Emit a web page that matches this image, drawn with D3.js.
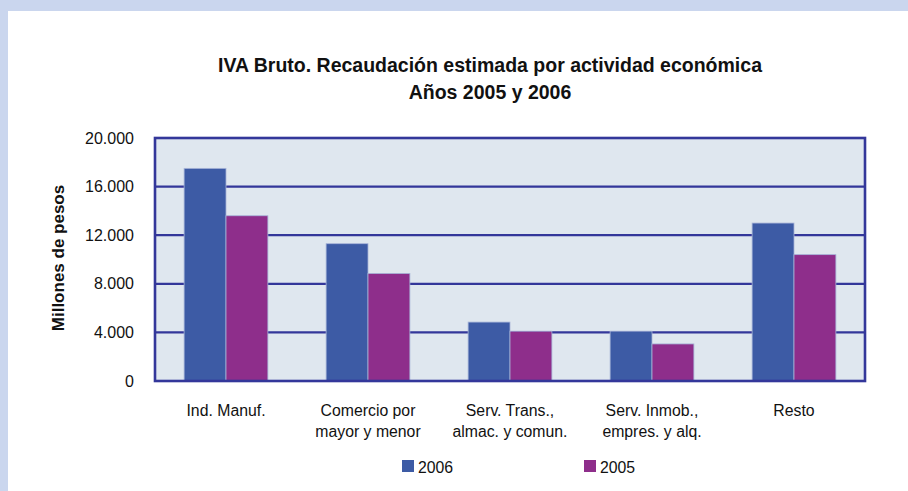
<!DOCTYPE html>
<html>
<head>
<meta charset="utf-8">
<script src="https://cdn.jsdelivr.net/npm/d3@7"></script>
<style>
  body { margin: 0; background: #cad6ee; }
  svg { display: block; font-family: "Liberation Sans", Arial, sans-serif; }
</style>
</head>
<body>
<div id="vis-container"></div>
<script>
// data (millones de pesos)
const categories = [
  ["Ind. Manuf."],
  ["Comercio por", "mayor y menor"],
  ["Serv. Trans.,", "almac. y comun."],
  ["Serv. Inmob.,", "empres. y alq."],
  ["Resto"]
];
const seriesNames = ["2006", "2005"];
const values2006 = [17500, 11300, 4850, 4100, 13000];
const values2005 = [13600, 8850, 4100, 3050, 10400];
const yTicks = [0, 4000, 8000, 12000, 16000, 20000];
const titleLines = ["IVA Bruto. Recaudación estimada por actividad económica", "Años 2005 y 2006"];
const yTitle = "Millones de pesos";

const width = 908;
const height = 491;
const plot = { left: 155, right: 865, top: 138, bottom: 381 };
const colors = { "2006": "#3d5ba5", "2005": "#8e2e8b" };
const navy = "#33379a";

const svg = d3.select("#vis-container")
  .append("svg")
  .attr("width", width)
  .attr("height", height);

// white panel over the light blue page
svg.append("rect")
  .attr("x", 8).attr("y", 11)
  .attr("width", width - 8).attr("height", height - 11)
  .attr("fill", "#ffffff");

// title
svg.append("g")
  .selectAll("text")
  .data(titleLines)
  .join("text")
    .attr("x", 490)
    .attr("y", (d, i) => 72 + i * 27)
    .attr("text-anchor", "middle")
    .attr("font-size", "19.5px")
    .attr("font-weight", "bold")
    .attr("fill", "#111")
    .text(d => d);

const keys = categories.map(c => c.join(" "));
const data = keys.map((k, i) => ({ key: k, lines: categories[i], "2006": values2006[i], "2005": values2005[i] }));

// scales
const x0 = d3.scaleBand()
  .domain(keys)
  .range([plot.left, plot.right])
  .paddingInner(0.41)
  .paddingOuter(0.205);

const x1 = d3.scaleBand()
  .domain(seriesNames)
  .range([0, x0.bandwidth()]);

const y = d3.scaleLinear()
  .domain([0, 20000])
  .range([plot.bottom, plot.top]);

// plot background
svg.append("rect")
  .attr("x", plot.left).attr("y", plot.top)
  .attr("width", plot.right - plot.left)
  .attr("height", plot.bottom - plot.top)
  .attr("fill", "#dfe7ef");

// gridlines
svg.append("g")
  .selectAll("line")
  .data(yTicks.filter(t => t > 0 && t < 20000))
  .join("line")
    .attr("x1", plot.left).attr("x2", plot.right)
    .attr("y1", d => y(d)).attr("y2", d => y(d))
    .attr("stroke", navy)
    .attr("stroke-width", 2.2);

// bars
svg.append("g")
  .selectAll("g")
  .data(data)
  .join("g")
    .attr("transform", d => `translate(${x0(d.key)},0)`)
  .selectAll("rect")
  .data(d => seriesNames.map(s => ({ s: s, v: d[s] })))
  .join("rect")
    .attr("x", d => x1(d.s))
    .attr("y", d => y(d.v))
    .attr("width", x1.bandwidth())
    .attr("height", d => y(0) - y(d.v))
    .attr("fill", d => colors[d.s])
    .attr("stroke", "#a7b4d8")
    .attr("stroke-width", 0.8);

// frame
svg.append("rect")
  .attr("x", plot.left).attr("y", plot.top)
  .attr("width", plot.right - plot.left)
  .attr("height", plot.bottom - plot.top)
  .attr("fill", "none")
  .attr("stroke", navy)
  .attr("stroke-width", 2.6);

// y axis labels
const esLocale = d3.formatLocale({ decimal: ",", thousands: ".", grouping: [3], currency: ["", ""] });
svg.append("g")
  .attr("transform", `translate(${plot.left},0)`)
  .call(d3.axisLeft(y).tickValues(yTicks).tickFormat(esLocale.format(",")).tickSize(0).tickPadding(21))
  .call(g => g.select(".domain").remove())
  .call(g => g.selectAll("text")
    .attr("font-size", "16px")
    .attr("font-family", "'Liberation Sans', Arial, sans-serif")
    .attr("fill", "#111"));

// y axis title
svg.append("text")
  .attr("transform", "translate(64,258) rotate(-90)")
  .attr("text-anchor", "middle")
  .attr("font-size", "17px")
  .attr("font-weight", "bold")
  .attr("fill", "#111")
  .text(yTitle);

// x axis labels
svg.append("g")
  .selectAll("text")
  .data(data)
  .join("text")
    .attr("x", d => x0(d.key) + x0.bandwidth() / 2)
    .attr("y", 415.5)
    .attr("text-anchor", "middle")
    .attr("font-size", "15.8px")
    .attr("fill", "#111")
    .selectAll("tspan")
    .data(d => d.lines)
    .join("tspan")
      .attr("x", function () { return d3.select(this.parentNode).attr("x"); })
      .attr("dy", (d, i) => i === 0 ? 0 : 21.5)
      .text(d => d);

// legend
const legendX = [402, 584];
const legend = svg.append("g")
  .selectAll("g")
  .data(seriesNames)
  .join("g")
    .attr("transform", (d, i) => `translate(${legendX[i]},460)`);
legend.append("rect")
  .attr("width", 12).attr("height", 12)
  .attr("fill", d => colors[d]);
legend.append("text")
  .attr("x", 16).attr("y", 12.5)
  .attr("font-size", "15.8px")
  .attr("fill", "#111")
  .text(d => d);
</script>
</body>
</html>
